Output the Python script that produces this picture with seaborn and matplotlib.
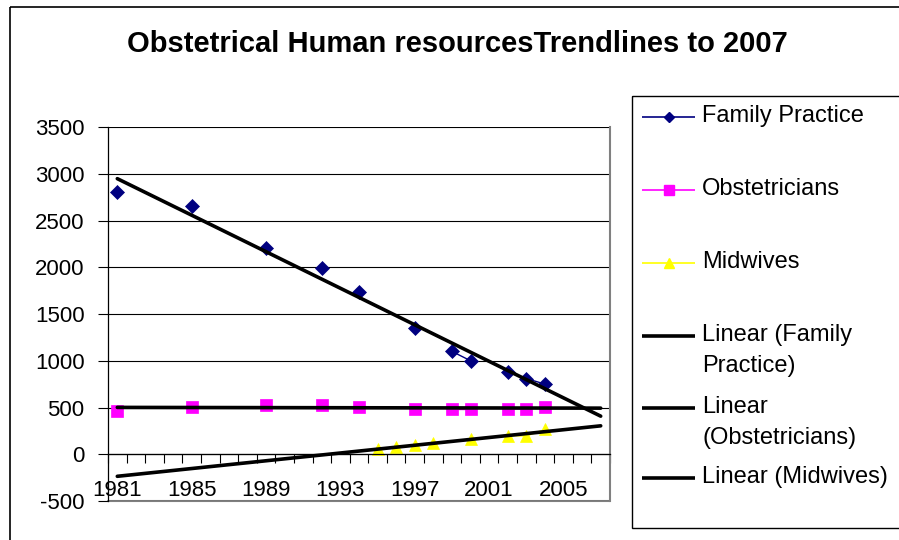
import numpy as np
import pandas as pd
import matplotlib
matplotlib.use("Agg")
import matplotlib.pyplot as plt
from matplotlib.patches import Rectangle
import seaborn as sns

# =========================
# Dados
# =========================
first_year = 1981
last_year = 2007          # as linhas de tendência vão até 2007
label_years = [1981, 1985, 1989, 1993, 1997, 2001, 2005]

fp_years = [1981, 1985, 1989, 1992, 1994, 1997, 1999, 2000, 2002, 2003, 2004]
fp_vals = [2800, 2650, 2210, 1990, 1740, 1350, 1100, 1000, 880, 810, 750]

obs_years = [1981, 1985, 1989, 1992, 1994, 1997, 1999, 2000, 2002, 2003, 2004]
obs_vals = [465, 505, 530, 530, 505, 485, 485, 485, 485, 485, 505]

mid_years = [1995, 1996, 1997, 1998, 2000, 2002, 2003, 2004]
mid_vals = [60, 75, 95, 115, 160, 200, 195, 265]

series_names = ["Family Practice", "Obstetricians", "Midwives"]
series_colors = ["#000080", "#FF00FF", "#FFFF00"]
series_markers = ["D", "s", "^"]

title = "Obstetrical Human resourcesTrendlines to 2007"

# =========================
# Estilo
# =========================
sns.set_style("white")
plt.rcParams["font.family"] = ["Liberation Sans", "DejaVu Sans"]
plt.rcParams["text.color"] = "black"
plt.rcParams["xtick.color"] = "black"
plt.rcParams["ytick.color"] = "black"
plt.rcParams["axes.unicode_minus"] = False

categories = np.arange(first_year, last_year + 1)
cat_pos = categories - first_year


def monta_df(years, vals):
    df = pd.DataFrame({"pos": np.array(years) - first_year, "val": vals})
    # anos consecutivos formam um segmento; lacunas quebram a linha
    df["seg"] = (df["pos"].diff() != 1).cumsum()
    return df


fig = plt.figure(figsize=(8.99, 5.4), dpi=100)
ax = fig.add_axes([108 / 899, 1 - 501 / 540, 502 / 899, 374 / 540])

dados = [(fp_years, fp_vals), (obs_years, obs_vals), (mid_years, mid_vals)]
ms = {"D": 7, "s": 8, "^": 9}

for (yrs, vals), cor, mk in zip(dados, series_colors, series_markers):
    df = monta_df(yrs, vals)
    sns.lineplot(data=df, x="pos", y="val", units="seg", estimator=None,
                 color=cor, marker=mk, markersize=ms[mk], markeredgecolor=cor,
                 markeredgewidth=0.5, lw=1, ax=ax, legend=False)

# linhas de tendência (regressão linear nas posições de categoria)
for yrs, vals in dados:
    pos = np.array(yrs) - first_year
    coef = np.polyfit(pos, vals, 1)
    sns.lineplot(x=cat_pos, y=np.polyval(coef, cat_pos), color="black",
                 lw=2.6, ax=ax, legend=False)

# =========================
# Eixos
# =========================
ax.set_xlim(-0.5, len(categories) - 0.5)
ax.set_ylim(-500, 3500)
ax.set_yticks(np.arange(-500, 3501, 500))
ax.set_xticks([y - first_year for y in label_years])
ax.set_xticklabels([str(y) for y in label_years])
ax.set_xticks(np.arange(-0.5, len(categories)), minor=True)
ax.set_xlabel("")
ax.set_ylabel("")

ax.grid(axis="y", color="black", lw=0.8)
ax.grid(axis="x", visible=False)
ax.set_axisbelow(True)

ax.spines["bottom"].set_position(("data", 0))
ax.spines["bottom"].set_color("black")
ax.spines["bottom"].set_linewidth(0.9)
ax.spines["left"].set_color("black")
ax.spines["left"].set_linewidth(0.9)
ax.spines["top"].set_visible(False)
ax.spines["right"].set_color("#808080")
ax.spines["right"].set_linewidth(1.5)
ax.axhline(-500, color="#808080", lw=1.5, clip_on=False, zorder=0.5)

ax.tick_params(axis="x", which="major", length=0, pad=18.5, labelsize=16)
ax.tick_params(axis="x", which="minor", length=6.5, width=0.8,
               direction="out", color="black", bottom=True)
ax.tick_params(axis="y", length=7, width=0.8, direction="out",
               color="black", pad=10, labelsize=16, left=True)

# =========================
# Título, moldura e legenda
# =========================
ov = fig.add_axes([0, 0, 1, 1], facecolor="none")
ov.set_xlim(0, 899)
ov.set_ylim(540, 0)
ov.axis("off")

ov.add_patch(Rectangle((10, 7), 1200, 1200, fill=False, ec="black",
                       lw=1.2, clip_on=False))
ov.add_patch(Rectangle((632, 96), 400, 432, fill=False, ec="black",
                       lw=1.0, clip_on=False))

ov.text(457, 44, title, ha="center", va="center", fontsize=21,
        fontweight="bold")

leg_ms = {"D": 5.5, "s": 6.5, "^": 7.5}
leg_items = [(n, c, m, 1.2) for n, c, m in
             zip(series_names, series_colors, series_markers)]
leg_items += [("Linear (Family\nPractice)", "black", None, 2.6),
              ("Linear\n(Obstetricians)", "black", None, 2.6),
              ("Linear (Midwives)", "black", None, 2.6)]
leg_y = [117, 190, 263, 336, 408, 478]

for (nome, cor, mk, lw), y in zip(leg_items, leg_y):
    ov.plot([642, 695], [y, y], color=cor, lw=lw, solid_capstyle="butt")
    if mk:
        ov.plot([668.5], [y], marker=mk, color=cor, ms=leg_ms[mk],
                markeredgecolor=cor)
    for k, linha in enumerate(nome.split("\n")):
        ov.text(702, y - 1 + k * 31, linha, ha="left", va="center",
                fontsize=17)

fig.savefig("out.png", dpi=100)
